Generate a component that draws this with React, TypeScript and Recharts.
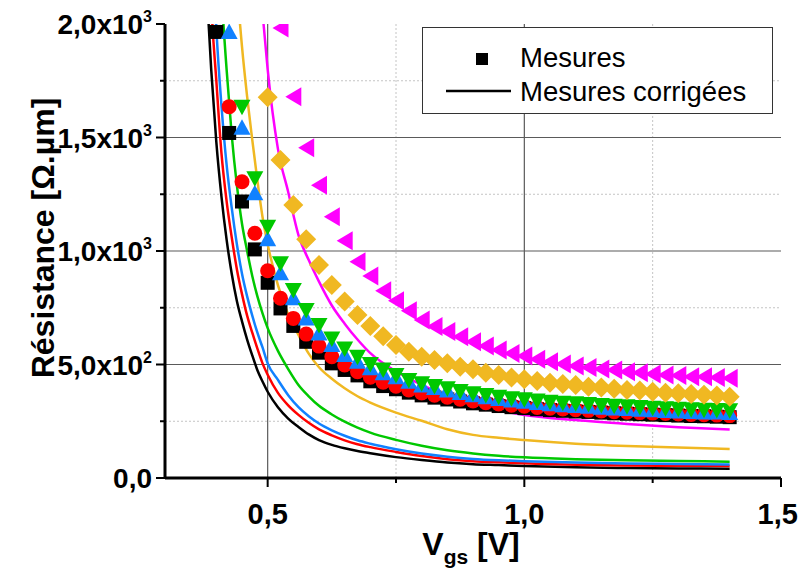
import { ComposedChart, Line, Scatter, XAxis, YAxis, ReferenceLine } from "recharts"

// Vgs grid of the measured points (V)
const MEAS_X = [
  0.4, 0.425, 0.45, 0.475, 0.5, 0.525, 0.55, 0.575, 0.6, 0.625, 0.65, 0.675, 0.7, 0.725,
  0.75, 0.775, 0.8, 0.825, 0.85, 0.875, 0.9, 0.925, 0.95, 0.975, 1.0, 1.025, 1.05, 1.075,
  1.1, 1.125, 1.15, 1.175, 1.2, 1.225, 1.25, 1.275, 1.3, 1.325, 1.35, 1.375, 1.4,
]

// measured resistance (Ohm.um), one array per device
const BLACK_MEAS = [1965, 1520, 1218, 1007, 860, 747, 670, 600, 552, 505, 476, 452, 426, 405, 391, 376, 364, 354, 346, 337, 329, 323, 317, 312, 308, 303, 299, 296, 293, 291, 288, 285, 283, 281, 279, 277, 275, 273, 272, 270, 268]
const RED_MEAS = [null, 1636, 1305, 1078, 913, 792, 703, 634, 581, 534, 498, 468, 444, 422, 404, 388, 375, 365, 356, 347, 339, 332, 326, 321, 316, 311, 307, 304, 301, 298, 295, 292, 290, 288, 286, 284, 282, 280, 279, 277, 275]
const BLUE_MEAS = [null, 1965, 1543, 1254, 1052, 902, 792, 703, 637, 586, 542, 512, 483, 461, 444, 424, 408, 396, 385, 374, 364, 356, 348, 341, 336, 330, 325, 321, 317, 314, 310, 306, 304, 301, 298, 295, 293, 291, 289, 288, 286]
const GREEN_MEAS = [null, null, 1636, 1321, 1107, 946, 828, 740, 674, 615, 571, 534, 502, 478, 454, 432, 417, 405, 395, 383, 373, 366, 358, 351, 347, 341, 336, 332, 329, 326, 322, 318, 316, 313, 310, 307, 305, 303, 301, 300, 298]
const GOLD_MEAS = [null, null, null, null, 1677, 1401, 1203, 1052, 938, 850, 777, 718, 670, 624, 586, 556, 534, 520, 505, 490, 479, 464, 454, 443, 435, 427, 420, 414, 410, 402, 399, 393, 388, 385, 380, 376, 373, 370, 367, 363, 358]
const MAGENTA_MEAS = [null, null, null, null, null, 1982, 1680, 1455, 1290, 1151, 1045, 953, 890, 825, 781, 737, 696, 667, 645, 622, 600, 581, 564, 549, 537, 523, 512, 502, 493, 487, 480, 476, 468, 464, 458, 454, 451, 446, 446, 443, 439]

// Vgs grid of the corrected curves (V)
const CORR_X = [
  0.38, 0.39, 0.4, 0.41, 0.42, 0.43, 0.44, 0.45, 0.46, 0.47, 0.48, 0.49, 0.5, 0.52, 0.54, 0.56,
  0.58, 0.6, 0.625, 0.65, 0.675, 0.7, 0.75, 0.8, 0.85, 0.9, 0.95, 1.0, 1.1, 1.2, 1.3, 1.4,
]

const BLACK_CORR = [2200, 1800, 1480, 1240, 1050, 900, 780, 690, 610, 540, 475, 425, 380, 312, 262, 225, 192, 167, 146, 131, 119, 109, 92, 79, 68, 61, 57, 53, 47, 44, 42, 41]
const RED_CORR = [2800, 2100, 1750, 1430, 1220, 1060, 920, 810, 715, 640, 570, 505, 455, 375, 320, 278, 243, 214, 188, 166, 149, 136, 115, 97, 83, 74, 69, 65, 58, 55, 54, 53]
const BLUE_CORR = [3200, 2500, 1980, 1640, 1380, 1190, 1030, 900, 800, 715, 640, 575, 505, 432, 365, 312, 272, 240, 210, 186, 166, 151, 127, 108, 94, 84, 78, 74, 68, 64, 62, 60]
const GREEN_CORR = [4000, 3300, 2700, 2150, 1800, 1510, 1290, 1120, 1000, 890, 800, 725, 660, 560, 480, 410, 360, 318, 280, 248, 222, 200, 168, 142, 122, 108, 98, 91, 83, 78, 75, 72]
const GOLD_CORR = [null, null, null, null, null, 2550, 2180, 1900, 1680, 1490, 1310, 1150, 1030, 850, 720, 630, 548, 488, 437, 395, 360, 332, 288, 252, 215, 190, 177, 167, 151, 141, 134, 128]
const MAGENTA_CORR = [null, null, null, null, null, null, null, null, null, null, 2350, 2050, 1800, 1450, 1260, 1070, 960, 865, 760, 680, 610, 550, 470, 410, 362, 326, 298, 278, 255, 238, 224, 214]

const X_TICKS = [0.5, 0.75, 1.0, 1.25, 1.5]
const X_MAJOR = [0.5, 1.0, 1.5]
const Y_TICKS = [0, 250, 500, 750, 1000, 1250, 1500, 1750, 2000]
const Y_MAJOR = [0, 500, 1000, 1500, 2000]
const X_GRID_MAJOR = [0.5, 1.0]
const X_GRID_MINOR = [0.75, 1.25]
const Y_GRID_MAJOR = [500, 1000, 1500]
const Y_GRID_MINOR = [250, 750, 1250, 1750]

const FONT = '"Liberation Sans", Arial, sans-serif'
const X_TICK_FONT = 29

type Kind = "square" | "circle" | "up" | "down" | "diamond" | "left"

const SERIES: { id: string; color: string; kind: Kind; meas: (number | null)[]; corr: (number | null)[] }[] = [
  { id: "black", color: "#000000", kind: "square", meas: BLACK_MEAS, corr: BLACK_CORR },
  { id: "red", color: "#ff0000", kind: "circle", meas: RED_MEAS, corr: RED_CORR },
  { id: "blue", color: "#1181ff", kind: "up", meas: BLUE_MEAS, corr: BLUE_CORR },
  { id: "green", color: "#00c800", kind: "down", meas: GREEN_MEAS, corr: GREEN_CORR },
  { id: "gold", color: "#f0b822", kind: "diamond", meas: GOLD_MEAS, corr: GOLD_CORR },
  { id: "magenta", color: "#ff00ff", kind: "left", meas: MAGENTA_MEAS, corr: MAGENTA_CORR },
]

function toPoints(xs: number[], ys: (number | null)[]) {
  return xs.map((x, i) => ({ x, y: ys[i] })).filter((p) => p.y !== null)
}

function Marker({ cx, cy, kind, color }: { cx: number; cy: number; kind: Kind; color: string }) {
  if (cx == null || cy == null) return null
  switch (kind) {
    case "square":
      return <rect x={cx - 7} y={cy - 7} width={14} height={14} fill={color} />
    case "circle":
      return <circle cx={cx} cy={cy} r={7.5} fill={color} />
    case "up":
      return <polygon points={`${cx},${cy - 8.5} ${cx - 8.5},${cy + 7} ${cx + 8.5},${cy + 7}`} fill={color} />
    case "down":
      return <polygon points={`${cx},${cy + 8.5} ${cx - 8.5},${cy - 7} ${cx + 8.5},${cy - 7}`} fill={color} />
    case "diamond":
      return <polygon points={`${cx},${cy - 10} ${cx + 10},${cy} ${cx},${cy + 10} ${cx - 10},${cy}`} fill={color} />
    case "left":
      return <polygon points={`${cx - 8},${cy} ${cx + 8},${cy - 9.5} ${cx + 8},${cy + 9.5}`} fill={color} />
  }
}

function LeftTick({ x, y, payload }: any) {
  const v = payload.value
  const major = Y_MAJOR.includes(v)
  let label = null
  if (major) {
    if (v === 0) {
      label = "0,0"
    } else {
      const e = Math.floor(Math.log10(v))
      const m = (v / Math.pow(10, e)).toFixed(1).replace(".", ",")
      label = (
        <>
          {m}x10<tspan dy={-12} fontSize={16}>{e}</tspan>
        </>
      )
    }
  }
  return (
    <g>
      <line x1={x} x2={x - (major ? 9 : 5)} y1={y} y2={y} stroke="#000" strokeWidth={2} />
      {label && (
        <text x={x - 13} y={y + 10} textAnchor="end" fontSize={28} fontWeight="bold" fontFamily={FONT} fill="#000">
          {label}
        </text>
      )}
    </g>
  )
}

function BottomTick({ x, y, payload }: any) {
  const v = payload.value
  const major = X_MAJOR.includes(v)
  // keep the last label inside the 800px picture
  const half = X_TICK_FONT * 0.7
  const tx = Math.min(x, 800 - half - 2)
  return (
    <g>
      <line x1={x} x2={x} y1={y} y2={y + (major ? 9 : 5)} stroke="#000" strokeWidth={2} />
      {major && (
        <text x={tx} y={y + 46} textAnchor="middle" fontSize={X_TICK_FONT} fontWeight="bold" fontFamily={FONT} fill="#000">
          {v.toFixed(1).replace(".", ",")}
        </text>
      )}
    </g>
  )
}

function TopTick({ x, y, payload }: any) {
  const major = X_MAJOR.includes(payload.value)
  return <line x1={x} x2={x} y1={y} y2={y + (major ? 8 : 5)} stroke="#000" strokeWidth={2} />
}

function RightTick({ x, y, payload }: any) {
  const major = Y_MAJOR.includes(payload.value)
  return <line x1={x} x2={x - (major ? 8 : 5)} y1={y} y2={y} stroke="#000" strokeWidth={2} />
}

const axisLine = { stroke: "#000", strokeWidth: 3 }

export default function App() {
  return (
    <div style={{ position: "absolute", left: 0, top: 0, width: 800, height: 573, background: "#fff" }}>
      <ComposedChart width={800} height={573} margin={{ top: 24, right: 19, bottom: 0, left: 0 }}>
        <XAxis
          dataKey="x"
          type="number"
          domain={[0.3, 1.5]}
          allowDataOverflow
          ticks={X_TICKS}
          interval={0}
          height={95}
          tickSize={0}
          tickMargin={0}
          tickLine={false}
          axisLine={axisLine}
          tick={<BottomTick />}
        />
        <XAxis
          xAxisId="top"
          orientation="top"
          dataKey="x"
          type="number"
          domain={[0.3, 1.5]}
          allowDataOverflow
          ticks={X_TICKS}
          interval={0}
          height={0}
          tickSize={0}
          tickMargin={0}
          tickLine={false}
          axisLine={axisLine}
          tick={<TopTick />}
        />
        <YAxis
          type="number"
          domain={[0, 2000]}
          allowDataOverflow
          ticks={Y_TICKS}
          interval={0}
          width={165}
          tickSize={0}
          tickMargin={0}
          tickLine={false}
          axisLine={axisLine}
          tick={<LeftTick />}
        />
        <YAxis
          yAxisId="right"
          orientation="right"
          type="number"
          domain={[0, 2000]}
          allowDataOverflow
          ticks={Y_TICKS}
          interval={0}
          width={0}
          tickSize={0}
          tickMargin={0}
          tickLine={false}
          axisLine={axisLine}
          tick={<RightTick />}
        />

        {X_GRID_MINOR.map((v) => (
          <ReferenceLine key={"xm" + v} x={v} stroke="#c4c4c4" strokeDasharray="2 2" strokeWidth={1} />
        ))}
        {Y_GRID_MINOR.map((v) => (
          <ReferenceLine key={"ym" + v} y={v} stroke="#c4c4c4" strokeDasharray="2 2" strokeWidth={1} />
        ))}
        {X_GRID_MAJOR.map((v) => (
          <ReferenceLine key={"xM" + v} x={v} stroke="#5a5a5a" strokeWidth={1.2} />
        ))}
        {Y_GRID_MAJOR.map((v) => (
          <ReferenceLine key={"yM" + v} y={v} stroke="#5a5a5a" strokeWidth={1.2} />
        ))}

        {SERIES.map((s) => (
          <Line
            key={"l" + s.id}
            data={toPoints(CORR_X, s.corr)}
            dataKey="y"
            type="monotone"
            stroke={s.color}
            strokeWidth={2.5}
            dot={false}
            activeDot={false}
            isAnimationActive={false}
          />
        ))}
        {SERIES.map((s) => (
          <Scatter
            key={"s" + s.id}
            data={toPoints(MEAS_X, s.meas)}
            dataKey="y"
            fill={s.color}
            isAnimationActive={false}
            shape={(p: any) => <Marker cx={p.cx} cy={p.cy} kind={s.kind} color={s.color} />}
          />
        ))}
      </ComposedChart>

      <svg width={800} height={573} style={{ position: "absolute", left: 0, top: 0, pointerEvents: "none" }}>
        <text
          transform="translate(54,238) rotate(-90)"
          textAnchor="middle"
          fontSize={32}
          fontWeight="bold"
          fontFamily={FONT}
          fill="#000"
        >
          Résistance [Ω.µm]
        </text>
        <text x={471} y={555} textAnchor="middle" fontSize={32} fontWeight="bold" fontFamily={FONT} fill="#000">
          V
          <tspan fontSize={21} dy={9}>gs</tspan>
          <tspan dy={-9}> [V]</tspan>
        </text>

        <rect x={422.5} y={27.5} width={350} height={86} fill="#fff" stroke="#333" strokeWidth={1} />
        <rect x={476} y={53} width={12} height={12} fill="#000" />
        <text x={520} y={67} fontSize={27.5} fontFamily={FONT} fill="#000">
          Mesures
        </text>
        <line x1={446} x2={511} y1={91} y2={91} stroke="#000" strokeWidth={2.5} />
        <text x={520} y={101} fontSize={27.5} fontFamily={FONT} fill="#000">
          Mesures corrigées
        </text>
      </svg>
    </div>
  )
}
